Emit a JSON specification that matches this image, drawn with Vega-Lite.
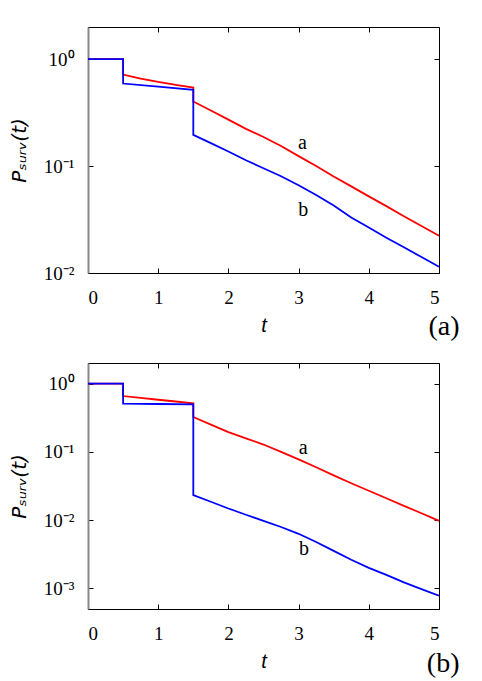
{
  "$schema": "https://vega.github.io/schema/vega-lite/v6.json",
  "background": "white",
  "padding": {"left": 8, "top": 26, "right": 0, "bottom": 0},
  "bounds": "flush",
  "spacing": 90,
  "config": {
    "view": {"stroke": "black", "strokeWidth": 1},
    "axis": {
      "grid": false,
      "labelFont": "Liberation Serif",
      "labelFontSize": 19,
      "labelColor": "black",
      "tickColor": "black",
      "tickSize": -5,
      "domainColor": "black",
      "titleFont": "Liberation Sans",
      "titleFontStyle": "italic",
      "titleFontWeight": "normal",
      "titleFontSize": 20,
      "titleColor": "black"
    },
    "title": {"font": "Liberation Serif", "fontSize": 28, "fontWeight": "normal", "color": "black"}
  },
  "vconcat": [
    {
      "width": 351,
      "height": 246,
      "title": {"text": "(a)", "orient": "bottom", "anchor": "end", "dx": 20, "offset": -22},
      "layer": [
        {
          "data": {"values": [
            {"s": "a", "i": 0, "t": 0, "p": 1.0},
            {"s": "a", "i": 1, "t": 0.5, "p": 1.0},
            {"s": "a", "i": 2, "t": 0.5, "p": 0.718},
            {"s": "a", "i": 3, "t": 0.75, "p": 0.658},
            {"s": "a", "i": 4, "t": 1.0, "p": 0.612},
            {"s": "a", "i": 5, "t": 1.25, "p": 0.575},
            {"s": "a", "i": 6, "t": 1.5, "p": 0.543},
            {"s": "a", "i": 7, "t": 1.5, "p": 0.402},
            {"s": "a", "i": 8, "t": 1.75, "p": 0.331},
            {"s": "a", "i": 9, "t": 2.0, "p": 0.272},
            {"s": "a", "i": 10, "t": 2.25, "p": 0.223},
            {"s": "a", "i": 11, "t": 2.5, "p": 0.187},
            {"s": "a", "i": 12, "t": 2.75, "p": 0.154},
            {"s": "a", "i": 13, "t": 3.0, "p": 0.124},
            {"s": "a", "i": 14, "t": 3.25, "p": 0.100},
            {"s": "a", "i": 15, "t": 3.5, "p": 0.0798},
            {"s": "a", "i": 16, "t": 3.75, "p": 0.0646},
            {"s": "a", "i": 17, "t": 4.0, "p": 0.0521},
            {"s": "a", "i": 18, "t": 4.25, "p": 0.0422},
            {"s": "a", "i": 19, "t": 4.5, "p": 0.0340},
            {"s": "a", "i": 20, "t": 4.75, "p": 0.0275},
            {"s": "a", "i": 21, "t": 5.0, "p": 0.0223},
            {"s": "b", "i": 0, "t": 0, "p": 1.0},
            {"s": "b", "i": 1, "t": 0.5, "p": 1.0},
            {"s": "b", "i": 2, "t": 0.5, "p": 0.592},
            {"s": "b", "i": 3, "t": 1.0, "p": 0.553},
            {"s": "b", "i": 4, "t": 1.5, "p": 0.516},
            {"s": "b", "i": 5, "t": 1.5, "p": 0.196},
            {"s": "b", "i": 6, "t": 1.75, "p": 0.164},
            {"s": "b", "i": 7, "t": 2.0, "p": 0.137},
            {"s": "b", "i": 8, "t": 2.25, "p": 0.1135},
            {"s": "b", "i": 9, "t": 2.5, "p": 0.0955},
            {"s": "b", "i": 10, "t": 2.75, "p": 0.0804},
            {"s": "b", "i": 11, "t": 3.0, "p": 0.0661},
            {"s": "b", "i": 12, "t": 3.25, "p": 0.0537},
            {"s": "b", "i": 13, "t": 3.5, "p": 0.0427},
            {"s": "b", "i": 14, "t": 3.75, "p": 0.0331},
            {"s": "b", "i": 15, "t": 4.0, "p": 0.0266},
            {"s": "b", "i": 16, "t": 4.25, "p": 0.0214},
            {"s": "b", "i": 17, "t": 4.5, "p": 0.0174},
            {"s": "b", "i": 18, "t": 4.75, "p": 0.0141},
            {"s": "b", "i": 19, "t": 5.0, "p": 0.01145}
          ]},
          "mark": {"type": "line", "strokeWidth": 1.8, "clip": true},
          "encoding": {
            "x": {"field": "t", "type": "quantitative", "scale": {"domain": [0, 5], "nice": false},
                  "axis": {"values": [0, 1, 2, 3, 4, 5], "title": "t", "labelPadding": 20, "titlePadding": 8}},
            "y": {"field": "p", "type": "quantitative", "scale": {"type": "log", "domain": [0.01, 2], "nice": false},
                  "axis": {"values": [1, 0.1, 0.01], "title": "Pₛᵤᵣᵥ(t)", "titleFont": "DejaVu Sans", "labelPadding": 19, "titlePadding": 14,
                           "domainColor": "#888888", "domainWidth": 2,
                           "labelExpr": "datum.value > 0.5 ? '10⁰' : datum.value > 0.05 ? '10⁻¹' : datum.value > 0.005 ? '10⁻²' : '10⁻³'"}},
            "color": {"field": "s", "type": "nominal", "scale": {"domain": ["a", "b"], "range": ["#ff0000", "#0000ff"]}, "legend": null},
            "order": {"field": "i", "type": "quantitative"}
          }
        },
        {
          "data": {"values": [{}]},
          "mark": {"type": "text", "font": "Liberation Serif", "fontSize": 20, "baseline": "alphabetic", "align": "center", "color": "black"},
          "encoding": {"x": {"datum": 3.053, "type": "quantitative", "axis": null}, "y": {"datum": 0.144, "type": "quantitative", "axis": null}, "text": {"value": "a"}}
        },
        {
          "data": {"values": [{}]},
          "mark": {"type": "text", "font": "Liberation Serif", "fontSize": 20, "baseline": "alphabetic", "align": "center", "color": "black"},
          "encoding": {"x": {"datum": 3.067, "type": "quantitative", "axis": null}, "y": {"datum": 0.0343, "type": "quantitative", "axis": null}, "text": {"value": "b"}}
        },
        {
          "data": {"values": [{"t": 0, "p": 1}]},
          "mark": {"type": "point", "opacity": 0},
          "encoding": {
            "x": {"field": "t", "type": "quantitative", "axis": {"orient": "top", "labels": false, "title": null, "domain": false, "values": [0, 1, 2, 3, 4, 5]}},
            "y": {"field": "p", "type": "quantitative", "axis": {"orient": "right", "labels": false, "title": null, "domain": false, "values": [1, 0.1, 0.01]}}
          }
        }
      ],
      "resolve": {"axis": {"x": "independent", "y": "independent"}}
    },
    {
      "width": 351,
      "height": 246,
      "title": {"text": "(b)", "orient": "bottom", "anchor": "end", "dx": 20, "offset": -21},
      "layer": [
        {
          "data": {"values": [
            {"s": "a", "i": 0, "t": 0, "p": 1.0},
            {"s": "a", "i": 1, "t": 0.5, "p": 1.0},
            {"s": "a", "i": 2, "t": 0.5, "p": 0.656},
            {"s": "a", "i": 3, "t": 0.75, "p": 0.617},
            {"s": "a", "i": 4, "t": 1.0, "p": 0.579},
            {"s": "a", "i": 5, "t": 1.25, "p": 0.546},
            {"s": "a", "i": 6, "t": 1.5, "p": 0.513},
            {"s": "a", "i": 7, "t": 1.5, "p": 0.324},
            {"s": "a", "i": 8, "t": 1.75, "p": 0.251},
            {"s": "a", "i": 9, "t": 2.0, "p": 0.195},
            {"s": "a", "i": 10, "t": 2.25, "p": 0.158},
            {"s": "a", "i": 11, "t": 2.5, "p": 0.128},
            {"s": "a", "i": 12, "t": 2.75, "p": 0.100},
            {"s": "a", "i": 13, "t": 3.0, "p": 0.0776},
            {"s": "a", "i": 14, "t": 3.25, "p": 0.0596},
            {"s": "a", "i": 15, "t": 3.5, "p": 0.0452},
            {"s": "a", "i": 16, "t": 3.75, "p": 0.0347},
            {"s": "a", "i": 17, "t": 4.0, "p": 0.0269},
            {"s": "a", "i": 18, "t": 4.25, "p": 0.0209},
            {"s": "a", "i": 19, "t": 4.5, "p": 0.0162},
            {"s": "a", "i": 20, "t": 4.75, "p": 0.0126},
            {"s": "a", "i": 21, "t": 5.0, "p": 0.00977},
            {"s": "b", "i": 0, "t": 0, "p": 1.0},
            {"s": "b", "i": 1, "t": 0.5, "p": 1.0},
            {"s": "b", "i": 2, "t": 0.5, "p": 0.507},
            {"s": "b", "i": 3, "t": 1.0, "p": 0.502},
            {"s": "b", "i": 4, "t": 1.5, "p": 0.497},
            {"s": "b", "i": 5, "t": 1.5, "p": 0.0232},
            {"s": "b", "i": 6, "t": 1.75, "p": 0.0186},
            {"s": "b", "i": 7, "t": 2.0, "p": 0.0148},
            {"s": "b", "i": 8, "t": 2.25, "p": 0.0120},
            {"s": "b", "i": 9, "t": 2.5, "p": 0.00977},
            {"s": "b", "i": 10, "t": 2.75, "p": 0.00794},
            {"s": "b", "i": 11, "t": 3.0, "p": 0.00631},
            {"s": "b", "i": 12, "t": 3.25, "p": 0.00479},
            {"s": "b", "i": 13, "t": 3.5, "p": 0.00355},
            {"s": "b", "i": 14, "t": 3.75, "p": 0.00263},
            {"s": "b", "i": 15, "t": 4.0, "p": 0.00200},
            {"s": "b", "i": 16, "t": 4.25, "p": 0.00158},
            {"s": "b", "i": 17, "t": 4.5, "p": 0.00123},
            {"s": "b", "i": 18, "t": 4.75, "p": 0.000977},
            {"s": "b", "i": 19, "t": 5.0, "p": 0.000782}
          ]},
          "mark": {"type": "line", "strokeWidth": 1.8, "clip": true},
          "encoding": {
            "x": {"field": "t", "type": "quantitative", "scale": {"domain": [0, 5], "nice": false},
                  "axis": {"values": [0, 1, 2, 3, 4, 5], "title": "t", "labelPadding": 20, "titlePadding": 8}},
            "y": {"field": "p", "type": "quantitative", "scale": {"type": "log", "domain": [0.0005, 2], "nice": false},
                  "axis": {"values": [1, 0.1, 0.01, 0.001], "title": "Pₛᵤᵣᵥ(t)", "titleFont": "DejaVu Sans", "labelPadding": 19, "titlePadding": 14,
                           "domainColor": "#888888", "domainWidth": 2,
                           "labelExpr": "datum.value > 0.5 ? '10⁰' : datum.value > 0.05 ? '10⁻¹' : datum.value > 0.005 ? '10⁻²' : '10⁻³'"}},
            "color": {"field": "s", "type": "nominal", "scale": {"domain": ["a", "b"], "range": ["#ff0000", "#0000ff"]}, "legend": null},
            "order": {"field": "i", "type": "quantitative"}
          }
        },
        {
          "data": {"values": [{}]},
          "mark": {"type": "text", "font": "Liberation Serif", "fontSize": 20, "baseline": "alphabetic", "align": "center", "color": "black"},
          "encoding": {"x": {"datum": 3.067, "type": "quantitative", "axis": null}, "y": {"datum": 0.0923, "type": "quantitative", "axis": null}, "text": {"value": "a"}}
        },
        {
          "data": {"values": [{}]},
          "mark": {"type": "text", "font": "Liberation Serif", "fontSize": 20, "baseline": "alphabetic", "align": "center", "color": "black"},
          "encoding": {"x": {"datum": 3.077, "type": "quantitative", "axis": null}, "y": {"datum": 0.00314, "type": "quantitative", "axis": null}, "text": {"value": "b"}}
        },
        {
          "data": {"values": [{"t": 0, "p": 1}]},
          "mark": {"type": "point", "opacity": 0},
          "encoding": {
            "x": {"field": "t", "type": "quantitative", "axis": {"orient": "top", "labels": false, "title": null, "domain": false, "values": [0, 1, 2, 3, 4, 5]}},
            "y": {"field": "p", "type": "quantitative", "axis": {"orient": "right", "labels": false, "title": null, "domain": false, "values": [1, 0.1, 0.01, 0.001]}}
          }
        }
      ],
      "resolve": {"axis": {"x": "independent", "y": "independent"}}
    }
  ]
}
